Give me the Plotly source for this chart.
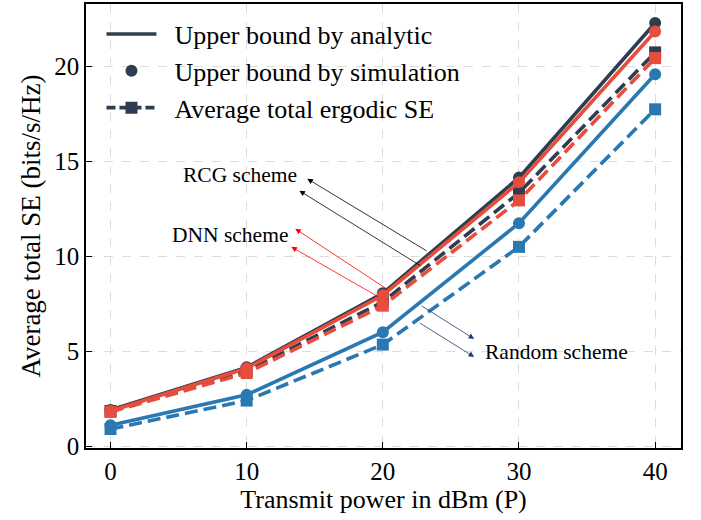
import plotly.graph_objects as go

power = [0, 10, 20, 30, 40]

rcg_analytic = [1.9, 4.15, 8.05, 14.15, 22.3]
rcg_sim = [1.9, 4.15, 8.05, 14.15, 22.3]
rcg_ergodic = [1.85, 3.95, 7.6, 13.35, 20.75]

dnn_analytic = [1.85, 4.1, 7.95, 13.9, 21.85]
dnn_sim = [1.85, 4.1, 7.95, 13.9, 21.85]
dnn_ergodic = [1.8, 3.85, 7.4, 12.95, 20.45]

rand_analytic = [1.1, 2.7, 6.0, 11.75, 19.6]
rand_sim = [1.1, 2.7, 6.0, 11.75, 19.6]
rand_ergodic = [0.9, 2.4, 5.35, 10.5, 17.75]

legend_labels = ["Upper bound by analytic", "Upper bound by simulation", "Average total ergodic SE"]
scheme_labels = ["RCG scheme", "DNN scheme", "Random scheme"]

DARK = "#2c3e50"
RED = "#e74c3c"
BLUE = "#2a78b2"
LW = 3.6
DASH = "13px,6px"
SERIF = "Liberation Serif"
PAD = "\u00a0\u00a0"

fig = go.Figure()

series = [
    (rcg_analytic, rcg_sim, rcg_ergodic, DARK),
    (dnn_analytic, dnn_sim, dnn_ergodic, RED),
    (rand_analytic, rand_sim, rand_ergodic, BLUE),
]
for ana, sim, erg, col in series:
    fig.add_trace(go.Scatter(x=power, y=ana, mode="lines", line=dict(color=col, width=LW),
                             showlegend=False, hoverinfo="skip"))
    fig.add_trace(go.Scatter(x=power, y=sim, mode="markers",
                             marker=dict(color=col, size=12, symbol="circle"),
                             showlegend=False, hoverinfo="skip"))
    fig.add_trace(go.Scatter(x=power, y=erg, mode="lines+markers",
                             line=dict(color=col, width=LW, dash=DASH),
                             marker=dict(color=col, size=12, symbol="square"),
                             showlegend=False, hoverinfo="skip"))

# legend-only entries
fig.add_trace(go.Scatter(x=[None], y=[None], mode="lines", name=PAD + legend_labels[0],
                         line=dict(color=DARK, width=LW)))
fig.add_trace(go.Scatter(x=[None], y=[None], mode="markers", name=PAD + legend_labels[1],
                         marker=dict(color=DARK, size=12, symbol="circle")))
fig.add_trace(go.Scatter(x=[None], y=[None], mode="lines+markers", name=PAD + legend_labels[2],
                         line=dict(color=DARK, width=LW, dash="9px,4px"),
                         marker=dict(color=DARK, size=12, symbol="square")))

# annotation arrows: (head_x, head_y, tail_x, tail_y, color)
arrows = [
    (14.45, 14.09, 23.33, 10.24, "black"),
    (13.87, 13.46, 22.89, 9.45, "black"),
    (13.57, 11.45, 20.40, 8.23, "red"),
    (13.28, 10.50, 19.81, 7.81, "red"),
    (26.71, 5.65, 22.74, 7.44, "#1f3b70"),
    (26.71, 4.70, 22.60, 6.54, "#1f3b70"),
]
for hx, hy, tx, ty, c in arrows:
    fig.add_annotation(x=hx, y=hy, ax=tx, ay=ty, xref="x", yref="y", axref="x", ayref="y",
                       text="", showarrow=True, arrowhead=2, arrowsize=1.4, arrowwidth=0.8,
                       arrowcolor=c)

text_pos = [(9.54, 14.3), (8.80, 11.13), (32.72, 4.96)]
for (tx, ty), lab in zip(text_pos, scheme_labels):
    fig.add_annotation(x=tx, y=ty, xref="x", yref="y", text=lab, showarrow=False,
                       font=dict(family="Liberation Serif", size=21.5, color="black"))

axis_common = dict(
    showline=True, linecolor="black", linewidth=1.5, mirror=True,
    ticks="inside", ticklen=6, tickwidth=1.2, tickcolor="black",
    showgrid=True, gridcolor="#dcdcdc", griddash="dash", gridwidth=0.8,
    zeroline=False, tickfont=dict(family=SERIF, size=25, color="black"),
    automargin=False,
)

fig.update_xaxes(range=[-1.8, 41.9], tickvals=power,
                 title=dict(text="Transmit power in dBm (P)", font=dict(family=SERIF, size=26, color="black"),
                            standoff=6),
                 **axis_common)
fig.update_yaxes(range=[-0.1, 23.3], tickvals=[0, 5, 10, 15, 20],
                 title=dict(text="Average total SE (bits/s/Hz)", font=dict(family=SERIF, size=27, color="black"),
                            standoff=6),
                 **axis_common)

fig.update_layout(
    width=701, height=520,
    margin=dict(l=86, r=20, t=4, b=72),
    plot_bgcolor="white", paper_bgcolor="white",
    legend=dict(x=0.026, y=0.985, xanchor="left", yanchor="top", bgcolor="rgba(0,0,0,0)",
                font=dict(family=SERIF, size=26, color="black"), itemwidth=50,
                tracegroupgap=0),
    showlegend=True,
)

fig.write_html("out.html", config={"displayModeBar": False},
               post_script="document.body.style.margin='0px';document.body.style.overflow='hidden';")
